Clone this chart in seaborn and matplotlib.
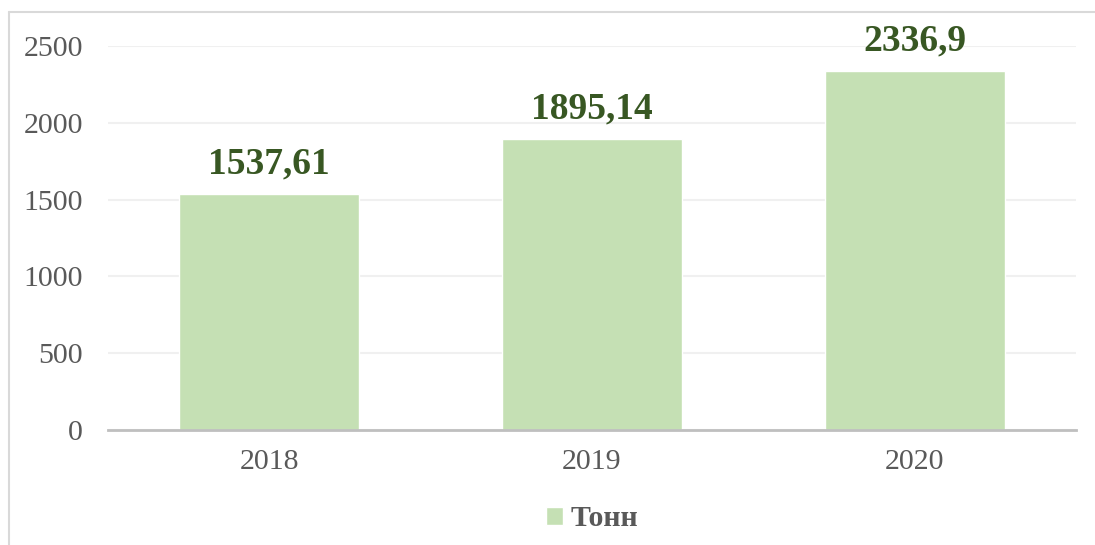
import numpy as np
import pandas as pd
import matplotlib
matplotlib.use('Agg')
import matplotlib.pyplot as plt
import seaborn as sns
from matplotlib.lines import Line2D

# Chart data
years = ['2018', '2019', '2020']
tonnes = [1537.61, 1895.14, 2336.9]
value_labels = ['1537,61', '1895,14', '2336,9']
series_name = 'Тонн'
y_ticks = [0, 500, 1000, 1500, 2000, 2500]

df = pd.DataFrame({'year': years, 'value': tonnes, 'series': series_name})

sns.set_theme(style='white')
plt.rcParams['font.family'] = ['Liberation Serif', 'DejaVu Serif']

text_grey = '#595959'
bar_green = '#C5E0B4'
label_green = '#385723'

fig = plt.figure(figsize=(10.95, 5.45), dpi=100)
ax = fig.add_axes([108 / 1095, 115 / 545, 968 / 1095, 384 / 545])

sns.barplot(data=df, x='year', y='value', hue='series', palette=[bar_green],
            width=0.557, ax=ax, legend=True, saturation=1)

ax.set_ylim(0, 2500)
ax.set_xlim(-0.5, 2.5)
ax.set_yticks(y_ticks)
ax.set_yticklabels([str(t) for t in y_ticks])
ax.set_xlabel('')
ax.set_ylabel('')

# Grid lines
ax.yaxis.grid(True, color='#F0F0F0', linewidth=1.5)
ax.set_axisbelow(True)
for side in ['top', 'right', 'left']:
    ax.spines[side].set_visible(False)
ax.spines['bottom'].set_color('#BFBFBF')
ax.spines['bottom'].set_linewidth(2)
ax.spines['bottom'].set_zorder(5)

ax.tick_params(axis='y', length=0, labelsize=21.5, labelcolor=text_grey, pad=18)
ax.tick_params(axis='x', length=0, labelsize=21.5, labelcolor=text_grey, pad=14)

# Value labels over bars
for i, (v, lab) in enumerate(zip(tonnes, value_labels)):
    ax.annotate(lab, (i, v), xytext=(0, 9), textcoords='offset points',
                ha='center', va='bottom', fontsize=27, fontweight='bold',
                color=label_green)

# Legend at bottom
handles, labels = ax.get_legend_handles_labels()
leg = ax.legend(handles, labels, loc='center', bbox_to_anchor=(0.5, (545 - 519 - 115) / 384),
                frameon=False, handlelength=0.55, handleheight=0.55, handletextpad=0.25,
                prop={'family': 'Liberation Serif', 'weight': 'bold', 'size': 21.5})
for t in leg.get_texts():
    t.set_color(text_grey)

# Chart frame (top and left edges visible)
fig.add_artist(Line2D([9 / 1095, 9 / 1095], [0, 1 - 12 / 545], transform=fig.transFigure,
                      color='#D9D9D9', linewidth=1.5))
fig.add_artist(Line2D([9 / 1095, 1], [1 - 12 / 545, 1 - 12 / 545], transform=fig.transFigure,
                      color='#D9D9D9', linewidth=1.5))

fig.savefig('out.png', dpi=100)
